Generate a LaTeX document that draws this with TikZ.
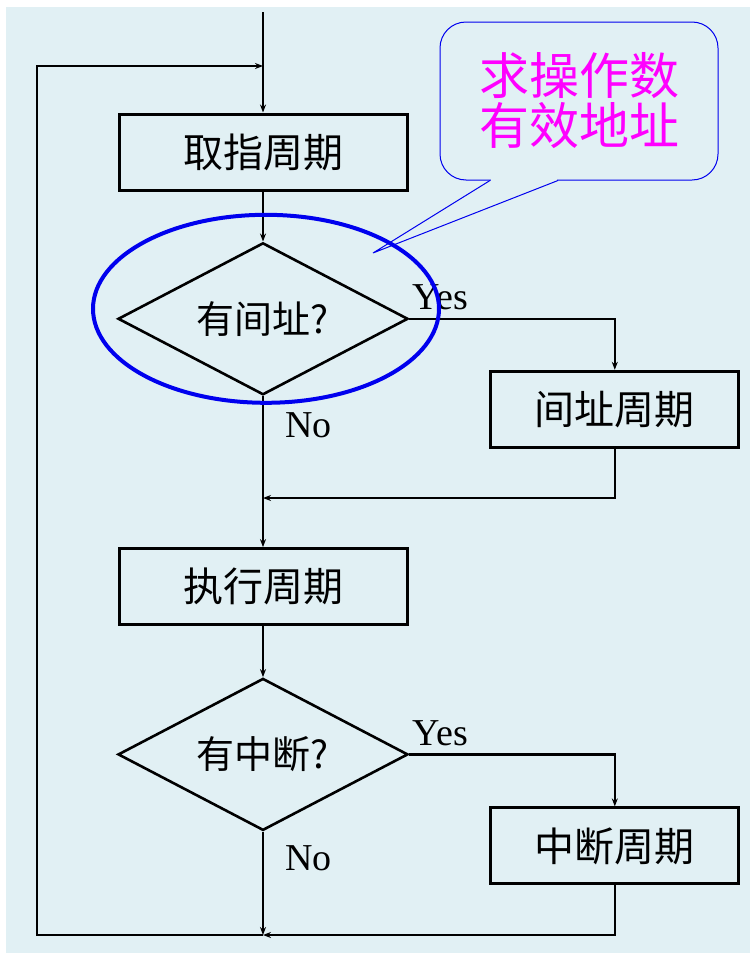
\documentclass[tikz,border=0pt]{standalone}
\usepackage{fontspec}
\setmainfont{Liberation Serif}
\newfontfamily\cjk{Noto Sans CJK SC}
\usepackage{tikz}
\usetikzlibrary{shapes.geometric, arrows.meta, positioning}
\definecolor{pagebg}{HTML}{E1F0F4}
\definecolor{ringblue}{HTML}{0000EE}
\definecolor{notepink}{HTML}{FF00FF}

\begin{document}
\begin{tikzpicture}[
  x=1pt, y=1pt,
  phase/.style={rectangle, draw=black, line width=3pt, minimum width=288pt,
    minimum height=76pt, font=\cjk\fontsize{40}{44}\selectfont},
  sidephase/.style={phase, minimum width=248pt},
  decide/.style={diamond, draw=black, line width=2.6pt, minimum width=290pt,
    minimum height=152pt, shape aspect=1.9, inner sep=0pt,
    font=\cjk\fontsize{38}{44}\selectfont},
  flow/.style={-{Stealth[length=8pt, width=6pt]}, line width=2.6pt, draw=black},
  tag/.style={font=\fontsize{38}{40}\selectfont, inner sep=0pt},
  ring/.style={ellipse, draw=ringblue, line width=4pt, minimum width=346pt,
    minimum height=188pt},
  bubble/.style={rectangle, rounded corners=26pt, draw=ringblue, line width=1pt,
    minimum width=278pt, minimum height=158pt, align=center, text=notepink,
    font=\cjk\fontsize{50}{50}\selectfont}
]
% page and background
\useasboundingbox (0,0) rectangle (754,-953);
\fill[white] (0,0) rectangle (754,-953);
\fill[pagebg] (6,-7) rectangle (750,-953);

% main column
\node[phase] (fetch) at (263,-152) {取指周期};
\node[decide, below=50pt of fetch] (ind) {有间址?};
\node[phase, below=151pt of ind] (exec) {执行周期};
\node[decide, below=51pt of exec] (intr) {有中断?};

% side branches
\node[sidephase, below right=51pt and 80pt of ind.east] (indc) {间址周期};
\node[sidephase, below right=52pt and 80pt of intr.east] (intc) {中断周期};

\coordinate (entry) at (263,-12);
\coordinate (loopin) at (263,-66);
\coordinate (merge) at (263,-498);
\coordinate (bottom) at (263,-935);
\coordinate (corner) at (37,-935);

\draw[flow] (entry) -- (fetch);
\draw[flow] (fetch) -- (ind);
\draw[flow] (ind) -- (exec);
\draw[flow] (exec) -- (intr);
\draw[flow] (intr) -- (bottom);
\draw[flow] (ind.east) -| (indc.north);
\draw[flow] (indc.south) |- (merge);
\draw[flow] (intr.east) -| (intc.north);
\draw[flow] (intc.south) |- (bottom);
\draw[flow] (bottom) -- (corner) |- (loopin);

% branch labels
\node[tag, anchor=south west] (yes1) at ([xshift=3pt,yshift=9pt]ind.east) {Yes};
\node[tag, anchor=north west] (no1) at ([xshift=22pt,yshift=-16pt]ind.south) {No};
\node[tag, anchor=south west] (yes2) at ([xshift=3pt,yshift=8pt]intr.east) {Yes};
\node[tag, anchor=north west] (no2) at ([xshift=22pt,yshift=-14pt]intr.south) {No};

% highlight and note
\node[ring, xshift=3pt, yshift=10pt] (ring) at (ind) {};
\node[bubble] (note) at (579,-101) {求操作数\\有效地址};
\coordinate (tail) at (373,-253);
\fill[pagebg] ([xshift=-88pt,yshift=2pt]note.south) rectangle ([xshift=-22pt,yshift=-2pt]note.south);
\draw[ringblue, line width=1pt] ([xshift=-89pt]note.south) -- (tail) -- ([xshift=-21pt]note.south);
\end{tikzpicture}
\end{document}
